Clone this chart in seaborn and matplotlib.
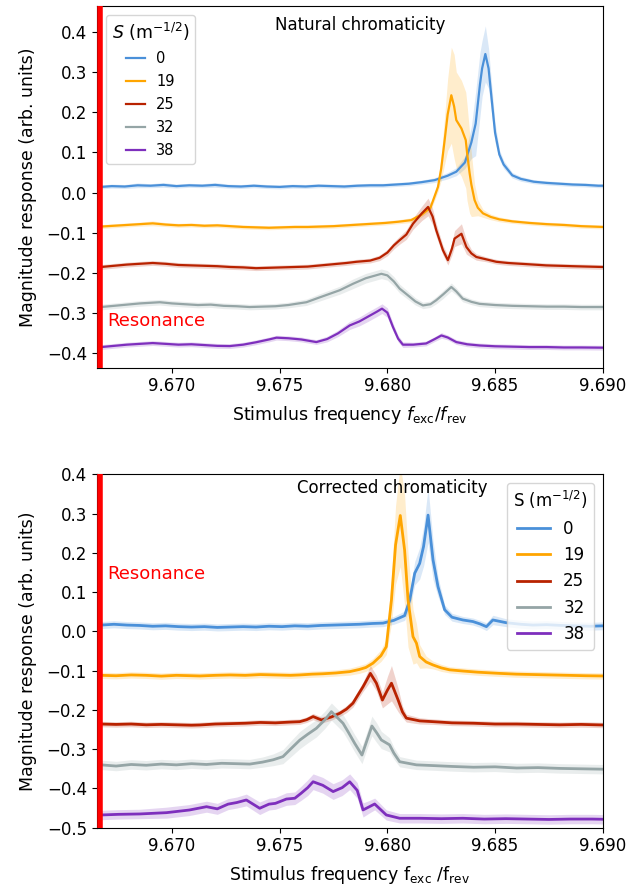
import matplotlib
matplotlib.use("Agg")
import matplotlib.pyplot as plt
import numpy as np
import pandas as pd
import seaborn as sns
from matplotlib.ticker import FormatStrFormatter, MultipleLocator

# Sextupole strength labels and line colours
S_LABELS = ["0", "19", "25", "32", "38"]
COLORS = ["#4a90d9", "#ffa500", "#b82200", "#95a5a6", "#7e2fbd"]
RESONANCE = 9.66667

# ---------------- natural chromaticity ----------------
nat_f_0 = [9.6667, 9.6672, 9.6678, 9.6684, 9.6690, 9.6696, 9.6702, 9.6708, 9.6714, 9.6720,
           9.6726, 9.6732, 9.6738, 9.6744, 9.6750, 9.6756, 9.6762, 9.6768, 9.6774, 9.6780,
           9.6786, 9.6792, 9.6798, 9.6804, 9.6810, 9.6816, 9.6822, 9.6828, 9.6832, 9.6836,
           9.6839, 9.6841, 9.6843, 9.6844, 9.68455, 9.6847, 9.6848, 9.6850, 9.6852, 9.6854,
           9.6858, 9.6862, 9.6868, 9.6874, 9.6880, 9.6886, 9.6892, 9.6898, 9.6900]
nat_m_0 = [0.014, 0.016, 0.015, 0.018, 0.017, 0.019, 0.016, 0.018, 0.017, 0.019,
           0.016, 0.015, 0.017, 0.015, 0.014, 0.016, 0.015, 0.017, 0.016, 0.015,
           0.017, 0.018, 0.018, 0.020, 0.022, 0.026, 0.031, 0.042, 0.052, 0.075,
           0.125, 0.172, 0.270, 0.310, 0.346, 0.310, 0.256, 0.150, 0.095, 0.070,
           0.043, 0.034, 0.027, 0.024, 0.022, 0.020, 0.019, 0.017, 0.017]
nat_e_0 = [0.005, 0.005, 0.005, 0.006, 0.005, 0.006, 0.005, 0.005, 0.005, 0.006,
           0.005, 0.005, 0.005, 0.005, 0.005, 0.005, 0.005, 0.005, 0.005, 0.005,
           0.005, 0.005, 0.005, 0.005, 0.005, 0.005, 0.006, 0.008, 0.010, 0.015,
           0.040, 0.080, 0.080, 0.070, 0.070, 0.050, 0.040, 0.025, 0.012, 0.010,
           0.007, 0.006, 0.005, 0.005, 0.005, 0.005, 0.005, 0.005, 0.005]

nat_f_19 = [9.6667, 9.6673, 9.6679, 9.6685, 9.6691, 9.6697, 9.6703, 9.6709, 9.6715, 9.6721,
            9.6727, 9.6733, 9.6739, 9.6745, 9.6751, 9.6757, 9.6763, 9.6769, 9.6775, 9.6781,
            9.6787, 9.6793, 9.6799, 9.6805, 9.6811, 9.6816, 9.6820, 9.68235, 9.6825, 9.68266,
            9.6828, 9.68297, 9.6831, 9.6832, 9.68344, 9.68364, 9.6837, 9.68382, 9.6839, 9.68405,
            9.6842, 9.68444, 9.6848, 9.6852, 9.6858, 9.6866, 9.6874, 9.6882, 9.6890, 9.6900]
nat_m_19 = [-0.085, -0.083, -0.081, -0.079, -0.077, -0.080, -0.082, -0.081, -0.083, -0.082,
            -0.084, -0.086, -0.087, -0.088, -0.087, -0.086, -0.086, -0.085, -0.084, -0.082,
            -0.080, -0.078, -0.076, -0.073, -0.069, -0.055, -0.038, 0.014, 0.060, 0.131,
            0.195, 0.243, 0.215, 0.181, 0.160, 0.131, 0.100, 0.048, 0.020, -0.019,
            -0.038, -0.052, -0.061, -0.067, -0.072, -0.076, -0.079, -0.081, -0.084, -0.086]
nat_e_19 = [0.005, 0.005, 0.005, 0.005, 0.006, 0.005, 0.005, 0.005, 0.005, 0.005,
            0.005, 0.005, 0.005, 0.005, 0.005, 0.005, 0.005, 0.005, 0.005, 0.005,
            0.005, 0.005, 0.005, 0.005, 0.006, 0.006, 0.008, 0.012, 0.030, 0.060,
            0.090, 0.120, 0.130, 0.120, 0.120, 0.120, 0.120, 0.100, 0.080, 0.040,
            0.020, 0.010, 0.007, 0.006, 0.005, 0.005, 0.005, 0.005, 0.005, 0.005]

nat_f_25 = [9.6667, 9.6673, 9.6679, 9.6685, 9.6691, 9.6697, 9.6703, 9.6709, 9.6715, 9.6721,
            9.6727, 9.6733, 9.6739, 9.6745, 9.6751, 9.6757, 9.6763, 9.6769, 9.6775, 9.6781,
            9.67856, 9.6792, 9.67964, 9.6800, 9.6803, 9.68057, 9.68088, 9.68119, 9.6816, 9.68189,
            9.6821, 9.68227, 9.68258, 9.68281, 9.6830, 9.68312, 9.68344, 9.68367, 9.6839, 9.68413,
            9.6846, 9.68506, 9.6856, 9.6862, 9.6868, 9.68738, 9.6880, 9.6886, 9.6893, 9.6900]
nat_m_25 = [-0.186, -0.183, -0.180, -0.178, -0.176, -0.178, -0.181, -0.182, -0.183, -0.184,
            -0.186, -0.187, -0.189, -0.188, -0.187, -0.186, -0.185, -0.182, -0.179, -0.176,
            -0.173, -0.170, -0.163, -0.150, -0.132, -0.119, -0.105, -0.078, -0.052, -0.036,
            -0.060, -0.094, -0.144, -0.169, -0.140, -0.115, -0.103, -0.136, -0.152, -0.161,
            -0.167, -0.173, -0.176, -0.178, -0.180, -0.182, -0.183, -0.184, -0.185, -0.186]
nat_e_25 = [0.006, 0.006, 0.006, 0.006, 0.006, 0.006, 0.006, 0.006, 0.006, 0.006,
            0.006, 0.006, 0.006, 0.006, 0.006, 0.006, 0.006, 0.006, 0.006, 0.006,
            0.006, 0.006, 0.007, 0.008, 0.009, 0.010, 0.012, 0.014, 0.018, 0.022,
            0.020, 0.016, 0.012, 0.012, 0.016, 0.020, 0.025, 0.018, 0.010, 0.008,
            0.006, 0.006, 0.006, 0.006, 0.006, 0.006, 0.006, 0.006, 0.006, 0.006]

nat_f_32 = [9.6667, 9.6673, 9.6679, 9.6685, 9.66943, 9.6700, 9.6706, 9.6712, 9.6718, 9.6724,
            9.6730, 9.6736, 9.6742, 9.6748, 9.6754, 9.67624, 9.6768, 9.67779, 9.6784, 9.6790,
            9.67972, 9.6800, 9.68030, 9.68057, 9.68096, 9.6813, 9.68165, 9.6820, 9.68227, 9.6826,
            9.68297, 9.6832, 9.6835, 9.6839, 9.68428, 9.6850, 9.6858, 9.68661, 9.6874, 9.6882,
            9.6890, 9.6900]
nat_m_32 = [-0.286, -0.283, -0.280, -0.277, -0.274, -0.277, -0.279, -0.281, -0.280, -0.283,
            -0.284, -0.286, -0.285, -0.284, -0.281, -0.274, -0.263, -0.244, -0.228, -0.214,
            -0.203, -0.207, -0.222, -0.240, -0.257, -0.272, -0.282, -0.279, -0.269, -0.254,
            -0.236, -0.247, -0.265, -0.273, -0.278, -0.281, -0.283, -0.284, -0.285, -0.285,
            -0.286, -0.286]
nat_e_32 = [0.007, 0.007, 0.007, 0.007, 0.007, 0.007, 0.007, 0.007, 0.007, 0.007,
            0.007, 0.007, 0.007, 0.007, 0.007, 0.008, 0.009, 0.010, 0.012, 0.012,
            0.012, 0.012, 0.012, 0.011, 0.010, 0.009, 0.008, 0.008, 0.009, 0.010,
            0.010, 0.009, 0.008, 0.007, 0.007, 0.007, 0.007, 0.007, 0.007, 0.007,
            0.007, 0.007]

nat_f_38 = [9.6667, 9.6673, 9.6679, 9.6685, 9.6691, 9.6697, 9.6703, 9.6709, 9.6715, 9.6721,
            9.67268, 9.6733, 9.6739, 9.6745, 9.67485, 9.6754, 9.6760, 9.6767, 9.6772, 9.6777,
            9.67825, 9.6787, 9.6791, 9.6795, 9.67975, 9.6800, 9.68026, 9.68050, 9.68072, 9.6812,
            9.6818, 9.6822, 9.68251, 9.6828, 9.6832, 9.6837, 9.68428, 9.6850, 9.6858, 9.6866,
            9.6874, 9.6882, 9.6890, 9.6900]
nat_m_38 = [-0.386, -0.383, -0.380, -0.378, -0.376, -0.378, -0.380, -0.379, -0.381, -0.383,
            -0.3835, -0.380, -0.374, -0.367, -0.3625, -0.364, -0.367, -0.3735, -0.366, -0.352,
            -0.332, -0.322, -0.310, -0.298, -0.290, -0.300, -0.336, -0.365, -0.380, -0.380,
            -0.377, -0.366, -0.357, -0.362, -0.3735, -0.379, -0.382, -0.384, -0.385, -0.386,
            -0.386, -0.387, -0.387, -0.3875]
nat_e_38 = [0.006, 0.006, 0.006, 0.006, 0.006, 0.006, 0.006, 0.006, 0.006, 0.006,
            0.006, 0.006, 0.006, 0.006, 0.006, 0.006, 0.006, 0.006, 0.007, 0.008,
            0.010, 0.011, 0.012, 0.012, 0.012, 0.012, 0.010, 0.008, 0.007, 0.006,
            0.006, 0.006, 0.007, 0.006, 0.006, 0.006, 0.006, 0.006, 0.006, 0.006,
            0.006, 0.006, 0.006, 0.006]

# ---------------- corrected chromaticity ----------------
corr_f_0 = [9.6667, 9.6673, 9.6679, 9.6685, 9.6691, 9.6697, 9.6703, 9.6709, 9.6715, 9.6721,
            9.6727, 9.6733, 9.6739, 9.6745, 9.6751, 9.6757, 9.6763, 9.6769, 9.6775, 9.6781,
            9.6787, 9.6793, 9.6798, 9.6803, 9.6808, 9.68104, 9.68127, 9.6815, 9.68168, 9.68189,
            9.68212, 9.68235, 9.68266, 9.6830, 9.6835, 9.68397, 9.6843, 9.6846, 9.6849, 9.68552,
            9.6862, 9.68676, 9.6874, 9.6881, 9.6888, 9.6894, 9.6900]
corr_m_0 = [0.016, 0.018, 0.016, 0.015, 0.013, 0.014, 0.012, 0.011, 0.012, 0.010,
            0.011, 0.012, 0.011, 0.013, 0.012, 0.014, 0.013, 0.015, 0.016, 0.017,
            0.018, 0.020, 0.021, 0.028, 0.040, 0.080, 0.148, 0.173, 0.216, 0.296,
            0.182, 0.114, 0.055, 0.036, 0.029, 0.025, 0.019, 0.012, 0.029, 0.022,
            0.018, 0.016, 0.017, 0.015, 0.014, 0.013, 0.014]
corr_e_0 = [0.009, 0.009, 0.009, 0.009, 0.009, 0.009, 0.009, 0.009, 0.009, 0.009,
            0.009, 0.009, 0.009, 0.009, 0.009, 0.009, 0.009, 0.009, 0.009, 0.009,
            0.009, 0.009, 0.009, 0.010, 0.012, 0.020, 0.030, 0.040, 0.050, 0.070,
            0.050, 0.025, 0.012, 0.010, 0.009, 0.009, 0.009, 0.010, 0.012, 0.010,
            0.010, 0.010, 0.010, 0.010, 0.010, 0.010, 0.010]

corr_f_19 = [9.6667, 9.6674, 9.6681, 9.6688, 9.6695, 9.6702, 9.6709, 9.67129, 9.6720, 9.6727,
             9.6734, 9.6741, 9.6748, 9.6755, 9.67593, 9.6765, 9.6770, 9.6776, 9.67825, 9.6787,
             9.6790, 9.67933, 9.6797, 9.67995, 9.68019, 9.68038, 9.6806, 9.6808, 9.68096, 9.68119,
             9.68135, 9.6815, 9.6818, 9.68212, 9.6825, 9.68289, 9.6835, 9.6842, 9.6852, 9.6860,
             9.6868, 9.6876, 9.6884, 9.6892, 9.6900]
corr_m_19 = [-0.112, -0.113, -0.111, -0.112, -0.114, -0.112, -0.113, -0.1136, -0.112, -0.111,
             -0.112, -0.110, -0.111, -0.112, -0.111, -0.109, -0.108, -0.106, -0.1026, -0.097,
             -0.092, -0.081, -0.062, -0.039, 0.080, 0.220, 0.295, 0.207, 0.080, -0.0135,
             -0.030, -0.064, -0.078, -0.0856, -0.093, -0.098, -0.101, -0.104, -0.107, -0.109,
             -0.110, -0.111, -0.112, -0.113, -0.1136]
corr_e_19 = [0.008, 0.008, 0.008, 0.008, 0.008, 0.008, 0.008, 0.008, 0.008, 0.008,
             0.008, 0.008, 0.008, 0.008, 0.008, 0.008, 0.008, 0.008, 0.009, 0.010,
             0.010, 0.012, 0.015, 0.020, 0.060, 0.100, 0.130, 0.140, 0.120, 0.070,
             0.050, 0.030, 0.015, 0.010, 0.009, 0.008, 0.008, 0.008, 0.008, 0.008,
             0.008, 0.008, 0.008, 0.008, 0.008]

corr_f_25 = [9.6667, 9.6674, 9.6681, 9.6688, 9.6695, 9.6702, 9.6709, 9.67129, 9.6720, 9.6727,
             9.6734, 9.6741, 9.6748, 9.6755, 9.67593, 9.67625, 9.67655, 9.67694, 9.6774, 9.67779,
             9.6781, 9.6784, 9.6786, 9.67887, 9.67921, 9.67949, 9.67977, 9.6800, 9.68019, 9.6805,
             9.6807, 9.68088, 9.6815, 9.68212, 9.6830, 9.6840, 9.6850, 9.6860, 9.6870, 9.6880,
             9.6890, 9.6900]
corr_m_25 = [-0.236, -0.237, -0.236, -0.238, -0.237, -0.238, -0.239, -0.2384, -0.236, -0.235,
             -0.234, -0.232, -0.233, -0.231, -0.230, -0.225, -0.217, -0.2257, -0.218, -0.2086,
             -0.198, -0.183, -0.165, -0.141, -0.107, -0.132, -0.175, -0.150, -0.132, -0.175,
             -0.205, -0.221, -0.228, -0.230, -0.233, -0.234, -0.236, -0.236, -0.237, -0.238,
             -0.237, -0.2384]
corr_e_25 = [0.007, 0.007, 0.007, 0.007, 0.007, 0.007, 0.007, 0.007, 0.007, 0.007,
             0.007, 0.007, 0.007, 0.007, 0.007, 0.007, 0.008, 0.008, 0.008, 0.008,
             0.009, 0.010, 0.011, 0.012, 0.020, 0.020, 0.020, 0.035, 0.045, 0.030,
             0.015, 0.010, 0.008, 0.007, 0.007, 0.007, 0.007, 0.007, 0.007, 0.007,
             0.007, 0.007]

corr_f_32 = [9.6667, 9.6674, 9.6681, 9.6688, 9.6695, 9.6702, 9.6709, 9.6716, 9.6723, 9.6730,
             9.67361, 9.6742, 9.6747, 9.67515, 9.6755, 9.67593, 9.6763, 9.6767, 9.6771, 9.6774,
             9.67794, 9.6782, 9.67848, 9.67882, 9.6791, 9.67928, 9.6795, 9.67972, 9.6801, 9.6803,
             9.68057, 9.68135, 9.6822, 9.6830, 9.6840, 9.6850, 9.6860, 9.6870, 9.6880, 9.6890,
             9.6900]
corr_m_32 = [-0.340, -0.343, -0.339, -0.341, -0.338, -0.340, -0.337, -0.339, -0.336, -0.337,
             -0.338, -0.333, -0.327, -0.319, -0.300, -0.277, -0.262, -0.247, -0.225, -0.2045,
             -0.234, -0.258, -0.285, -0.315, -0.270, -0.241, -0.258, -0.2766, -0.289, -0.310,
             -0.332, -0.340, -0.342, -0.344, -0.346, -0.345, -0.348, -0.347, -0.349, -0.350,
             -0.351]
corr_e_32 = [0.012, 0.012, 0.012, 0.012, 0.012, 0.012, 0.012, 0.012, 0.012, 0.012,
             0.012, 0.013, 0.015, 0.018, 0.020, 0.022, 0.022, 0.022, 0.022, 0.022,
             0.022, 0.022, 0.022, 0.022, 0.022, 0.025, 0.025, 0.022, 0.018, 0.015,
             0.013, 0.012, 0.012, 0.012, 0.012, 0.012, 0.012, 0.012, 0.012, 0.012,
             0.012]

corr_f_38 = [9.6667, 9.6675, 9.6685, 9.66974, 9.6708, 9.6716, 9.6721, 9.6726, 9.6730, 9.67345,
             9.67407, 9.6745, 9.6748, 9.67531, 9.6757, 9.6760, 9.6763, 9.67655, 9.6770, 9.67748,
             9.6779, 9.67825, 9.6786, 9.67887, 9.67915, 9.67941, 9.67995, 9.68057, 9.6815, 9.6825,
             9.6835, 9.6845, 9.6855, 9.6865, 9.6875, 9.6885, 9.6895, 9.6900]
corr_m_38 = [-0.4676, -0.466, -0.465, -0.4617, -0.455, -0.4465, -0.452, -0.440, -0.436, -0.4294,
             -0.4505, -0.440, -0.438, -0.427, -0.425, -0.412, -0.398, -0.383, -0.392, -0.408,
             -0.398, -0.383, -0.405, -0.4548, -0.447, -0.4396, -0.4676, -0.476, -0.476, -0.477,
             -0.476, -0.478, -0.477, -0.478, -0.479, -0.478, -0.478, -0.4785]
corr_e_38 = [0.012, 0.012, 0.012, 0.014, 0.014, 0.014, 0.014, 0.014, 0.014, 0.015,
             0.016, 0.015, 0.015, 0.016, 0.016, 0.018, 0.020, 0.020, 0.020, 0.020,
             0.020, 0.020, 0.020, 0.018, 0.016, 0.015, 0.013, 0.012, 0.012, 0.012,
             0.012, 0.012, 0.012, 0.012, 0.012, 0.012, 0.012, 0.012]

NATURAL = [(nat_f_0, nat_m_0, nat_e_0), (nat_f_19, nat_m_19, nat_e_19),
           (nat_f_25, nat_m_25, nat_e_25), (nat_f_32, nat_m_32, nat_e_32),
           (nat_f_38, nat_m_38, nat_e_38)]
CORRECTED = [(corr_f_0, corr_m_0, corr_e_0), (corr_f_19, corr_m_19, corr_e_19),
             (corr_f_25, corr_m_25, corr_e_25), (corr_f_32, corr_m_32, corr_e_32),
             (corr_f_38, corr_m_38, corr_e_38)]


def to_frame(series):
    parts = []
    for label, (f, m, e) in zip(S_LABELS, series):
        parts.append(pd.DataFrame({"f": f, "mag": m, "err": e, "S": label}))
    return pd.concat(parts, ignore_index=True)


def draw_panel(ax, series, lw):
    df = to_frame(series)
    palette = dict(zip(S_LABELS, COLORS))
    for label in S_LABELS:
        sub = df[df["S"] == label]
        ax.fill_between(sub["f"], sub["mag"] - sub["err"], sub["mag"] + sub["err"],
                        color=palette[label], alpha=0.2, lw=0)
    sns.lineplot(data=df, x="f", y="mag", hue="S", hue_order=S_LABELS, palette=palette,
                 estimator=None, sort=False, lw=lw, ax=ax)
    ax.axvline(RESONANCE, color="red", lw=4, zorder=5)
    ax.set_xlim(9.6665, 9.690)
    ax.xaxis.set_major_locator(MultipleLocator(0.005))
    ax.xaxis.set_major_formatter(FormatStrFormatter("%.3f"))
    ax.yaxis.set_major_locator(MultipleLocator(0.1))
    ax.tick_params(labelsize=12)
    ax.set_ylabel("Magnitude response (arb. units)", fontsize=12.5, labelpad=7)


fig = plt.figure(figsize=(6.4, 8.86), dpi=100)
ax1 = fig.add_axes([0.1511, 0.5850, 0.7906, 0.4082])
ax2 = fig.add_axes([0.1511, 0.0658, 0.7906, 0.3989])

# natural chromaticity panel
draw_panel(ax1, NATURAL, 1.6)
ax1.set_ylim(-0.4375, 0.4658)
ax1.set_xlabel(r"Stimulus frequency $f_{\mathrm{exc}}/f_{\mathrm{rev}}$",
               fontsize=12.5, labelpad=6)
ax1.text(0.52, 0.947, "Natural chromaticity", transform=ax1.transAxes,
         ha="center", va="center", fontsize=12)
ax1.text(9.66697, -0.322, "Resonance", color="red", fontsize=13, va="center")
h, l = ax1.get_legend_handles_labels()
leg1 = ax1.legend(h, l, title=r"$S$ (m$^{-1/2}$)", loc="upper left",
                  bbox_to_anchor=(0.0178, 0.975), borderaxespad=0,
                  fontsize=10.5, title_fontsize=12.5, handlelength=1.3,
                  labelspacing=0.55)

# corrected chromaticity panel
draw_panel(ax2, CORRECTED, 2.0)
ax2.set_ylim(-0.5, 0.4)
ax2.set_xlabel(r"Stimulus frequency f$_{\mathrm{exc}}$ /f$_{\mathrm{rev}}$",
               fontsize=12.5, labelpad=6)
ax2.text(0.584, 0.961, "Corrected chromaticity", transform=ax2.transAxes,
         ha="center", va="center", fontsize=12)
ax2.text(9.66697, 0.145, "Resonance", color="red", fontsize=13, va="center")
h, l = ax2.get_legend_handles_labels()
leg2 = ax2.legend(h, l, title=r"S (m$^{-1/2}$)", loc="upper right",
                  fontsize=12, title_fontsize=12)

fig.savefig("out.png", dpi=100)
